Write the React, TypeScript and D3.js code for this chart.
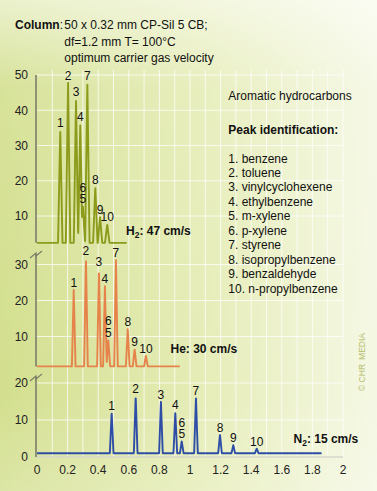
import React from "react";
import * as d3 from "d3";

const W = 377;
const H = 491;

// ---- data ----
const xTickValues = [0, 0.2, 0.4, 0.6, 0.8, 1, 1.2, 1.4, 1.6, 1.8, 2];
const xTickLabels = ["0", "0.2", "0.4", "0.6", "0.8", "1", "1.2", "1.4", "1.6", "1.8", "2"];
const gridTimes = [0.1, 0.2, 0.3, 0.4, 0.5, 0.6, 0.7, 0.8, 0.9, 1, 1.1, 1.2, 1.3, 1.4, 1.5, 1.6, 1.7, 1.8, 1.9, 2];

const peakLabels = ["1", "2", "3", "4", "5", "6", "7", "8", "9", "10"];

const h2Times = [0.152, 0.203, 0.255, 0.283, 0.3, 0.3, 0.329, 0.381, 0.412, 0.459];
const h2Heights = [34.4, 47.8, 43.2, 36.3, 12.8, 12.5, 47.7, 18.3, 9.8, 7.7];
const h2Ticks = [10, 20, 30, 40, 50];

const heTimes = [0.24, 0.32, 0.405, 0.444, 0.466, 0.466, 0.516, 0.593, 0.638, 0.712];
const heHeights = [22.9, 31.9, 28.9, 24.0, 9.2, 9.0, 31.2, 12.2, 6.5, 4.7];
const heTicks = [10, 20, 30];

const n2Times = [0.488, 0.645, 0.81, 0.904, 0.946, 0.946, 1.039, 1.196, 1.283, 1.436];
const n2Heights = [12.1, 16.6, 14.9, 12.2, 4.3, 4.2, 16.1, 6.1, 3.2, 2.3];
const n2Ticks = [0, 10, 20];

const compounds = [
  "1. benzene",
  "2. toluene",
  "3. vinylcyclohexene",
  "4. ethylbenzene",
  "5. m-xylene",
  "6. p-xylene",
  "7. styrene",
  "8. isopropylbenzene",
  "9. benzaldehyde",
  "10. n-propylbenzene",
];

// ---- layout ----
const FONT = "'Liberation Sans', Arial, Helvetica, sans-serif";
const x = d3.scaleLinear().domain([0, 2]).range([37, 343]);

type Panel = {
  times: number[];
  heights: number[];
  ticks: number[];
  yMax: number;
  range: [number, number];
  baseline: number;
  endTime: number;
  halfWidth: number;
  color: string;
  gas: string;
  speed: string;
  labelX: number;
  labelY: number;
  axisTop: number;
  breakMark: boolean;
  axisBottomAtZero: boolean;
};

const panels: Panel[] = [
  {
    times: h2Times, heights: h2Heights, ticks: h2Ticks, yMax: 50, range: [251.3, 75],
    baseline: 2.4, endTime: 0.586, halfWidth: 0.0145, color: "#8c9b1c",
    gas: "H", speed: ": 47 cm/s", labelX: 126, labelY: 234.5, axisTop: 75, breakMark: false,
    axisBottomAtZero: false,
  },
  {
    times: heTimes, heights: heHeights, ticks: heTicks, yMax: 30, range: [372.5, 264.5],
    baseline: 1.7, endTime: 0.934, halfWidth: 0.012, color: "#e6834a",
    gas: "He", speed: ": 30 cm/s", labelX: 170.5, labelY: 353.3, axisTop: 254, breakMark: true,
    axisBottomAtZero: false,
  },
  {
    times: n2Times, heights: n2Heights, ticks: n2Ticks, yMax: 20, range: [457, 383],
    baseline: 1.0, endTime: 1.86, halfWidth: 0.012, color: "#2e4ea6",
    gas: "N", speed: ": 15 cm/s", labelX: 293.5, labelY: 442.5, axisTop: 377, breakMark: true,
    axisBottomAtZero: true,
  },
];

function buildCurve(p: Panel): [number, number][] {
  const pts: [number, number][] = [];
  const step = p.halfWidth / 10;
  for (let t = 0; t <= p.endTime + 1e-9; t += step) {
    let v = p.baseline;
    p.times.forEach((pt, i) => {
      const d = Math.abs(t - pt);
      if (d < p.halfWidth) {
        const tri = p.baseline + (p.heights[i] - p.baseline) * (1 - d / p.halfWidth);
        if (tri > v) v = tri;
      }
    });
    pts.push([t, v]);
  }
  return pts;
}

function PanelView({ p }: { p: Panel }) {
  const y = d3.scaleLinear().domain([0, p.yMax]).range(p.range);
  const line = d3
    .line<[number, number]>()
    .x((d) => x(d[0]))
    .y((d) => y(d[1]));
  const pts = buildCurve(p);
  const axisX = 36;
  const axisBottom = p.axisBottomAtZero ? y(0) : y(p.baseline);

  // label stacking for co-eluting peaks
  const labels = p.times.map((t, i) => {
    let stack = 0;
    for (let j = i - 1; j >= 0 && p.times[j] === t; j--) stack++;
    const top = Math.max(...p.heights.filter((_, k) => p.times[k] === t));
    return { t, text: peakLabels[i], yy: y(top) - 2.7 - stack * 11.5 };
  });

  return (
    <g>
      {p.ticks.map((tk) => (
        <line key={"g" + tk} x1={axisX} x2={x(2)} y1={y(tk)} y2={y(tk)} stroke="#ffffff" strokeOpacity={0.75} strokeWidth={1} />
      ))}
      {p.ticks.map((tk) => (
        <text key={"t" + tk} x={28} y={y(tk) + 4.3} textAnchor="end" fontSize={12} fontFamily={FONT} fill="#222">
          {tk}
        </text>
      ))}
      <line x1={axisX} x2={axisX} y1={p.axisTop} y2={axisBottom} stroke="#7d7d6a" strokeWidth={1.6} />
      {p.breakMark && (
        <path
          d={`M${axisX - 6},${p.axisTop + 4} L${axisX},${p.axisTop - 1} L${axisX},${p.axisTop + 2} L${axisX + 6},${p.axisTop - 3}`}
          fill="none"
          stroke="#7d7d6a"
          strokeWidth={1.2}
        />
      )}
      <path d={line(pts) || ""} fill="none" stroke={p.color} strokeWidth={1.9} strokeLinejoin="round" />
      {labels.map((l, i) => (
        <text key={"l" + i} x={x(l.t)} y={l.yy} textAnchor="middle" fontSize={12} fontFamily={FONT} fill="#111">
          {l.text}
        </text>
      ))}
      <text x={p.labelX} y={p.labelY} fontSize={12} fontWeight="bold" fontFamily={FONT} fill="#111">
        {p.gas}
        {p.gas !== "He" && (
          <tspan fontSize={8.5} dy={3}>
            2
          </tspan>
        )}
        <tspan dy={p.gas !== "He" ? -3 : 0}>{p.speed}</tspan>
      </text>
    </g>
  );
}

export default function App() {
  const y0 = 457;
  return (
    <svg width={W} height={H} style={{ position: "absolute", left: 0, top: 0, display: "block" }}>
      <defs>
        <linearGradient id="bgH" x1="0" y1="0" x2="1" y2="0">
          <stop offset="0" stopColor="#d3df8e" />
          <stop offset="0.55" stopColor="#e6edb8" />
          <stop offset="1" stopColor="#f5f8e4" />
        </linearGradient>
        <linearGradient id="bgV" x1="0" y1="0" x2="0" y2="1">
          <stop offset="0" stopColor="#ffffff" stopOpacity={0.55} />
          <stop offset="0.18" stopColor="#ffffff" stopOpacity={0.1} />
          <stop offset="0.8" stopColor="#ffffff" stopOpacity={0} />
          <stop offset="1" stopColor="#ffffff" stopOpacity={0.2} />
        </linearGradient>
      </defs>
      <rect x={0} y={0} width={W} height={H} fill="url(#bgH)" />
      <rect x={0} y={0} width={W} height={H} fill="url(#bgV)" />

      {gridTimes.map((t) => (
        <line key={"v" + t} x1={x(t)} x2={x(t)} y1={70} y2={y0} stroke="#ffffff" strokeOpacity={0.75} strokeWidth={1} />
      ))}
      <line x1={36} x2={x(2)} y1={y0} y2={y0} stroke="#a3a38e" strokeWidth={1} />
      {xTickValues.map((t, i) => (
        <text key={"x" + t} x={x(t)} y={473.5} textAnchor="middle" fontSize={12} fontFamily={FONT} fill="#222">
          {xTickLabels[i]}
        </text>
      ))}

      {panels.map((p, i) => (
        <PanelView key={i} p={p} />
      ))}

      <g fontFamily={FONT} fontSize={12} fill="#111">
        <text x={15} y={29.3}>
          <tspan fontWeight="bold">Column</tspan>:
        </text>
        <text x={64.3} y={29.3}>50 x 0.32 mm CP-Sil 5 CB;</text>
        <text x={64.3} y={45.5}>df=1.2 mm T= 100°C</text>
        <text x={64.3} y={61.5}>optimum carrier gas velocity</text>

        <text x={228.3} y={100.3}>Aromatic hydrocarbons</text>
        <text x={228.3} y={133.6} fontWeight="bold">
          Peak identification:
        </text>
        {compounds.map((c, i) => (
          <text key={c} x={228.3} y={162.6 + i * 14.44}>
            {c}
          </text>
        ))}
      </g>

      <text
        transform="translate(364.5,391) rotate(-90)"
        fontFamily={FONT}
        fontSize={8.5}
        fill="#b3bc6a"
      >
        © CHR
        <tspan dx={4}>MEDIA</tspan>
      </text>
    </svg>
  );
}
